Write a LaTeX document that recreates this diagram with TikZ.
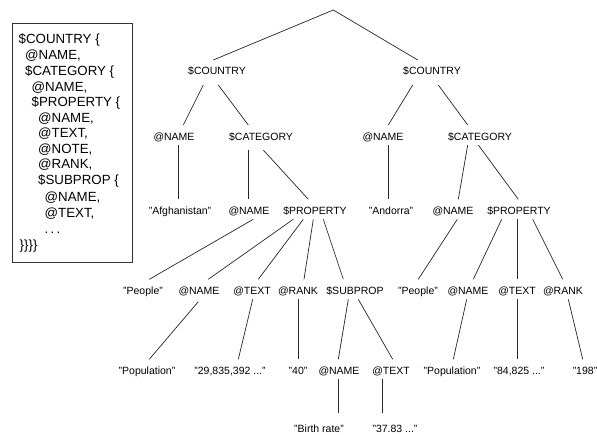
\documentclass[tikz,border=0pt]{standalone}
\usepackage{fontspec}
\setmainfont{Liberation Sans}
\usetikzlibrary{calc}
\newcommand\Edge[6]{\draw[edge] ([shift={(#2,#3)}]#1.center) -- ([shift={(#5,#6)}]#4.center);}
\begin{document}
\begin{tikzpicture}[x=1pt,y=-1pt,
  lbl/.style={inner sep=0pt, text height=7.5pt, text depth=0pt, font=\fontsize{10.5}{12}\selectfont},
  code/.style={inner sep=0pt, text height=9.5pt, text depth=0pt, font=\fontsize{13.3}{15}\selectfont, anchor=west},
  edge/.style={line width=0.7pt, black!85},
  legend/.style={draw=black!80, line width=0.8pt, inner sep=0pt, anchor=north west}]
\useasboundingbox (0,0) rectangle (597,435);

% legend box
\node[legend, minimum width=120pt, minimum height=239pt] (box) at (12,23) {};
\node[code] (b1) at (18.5,39) {\$COUNTRY \{};
\node[code] (b2) at (25,55) {@NAME,};
\node[code] (b3) at (25,71) {\$CATEGORY \{};
\node[code] (b4) at (31.5,86.5) {@NAME,};
\node[code] (b5) at (31.5,102) {\$PROPERTY \{};
\node[code] (b6) at (38,117.5) {@NAME,};
\node[code] (b7) at (38,133) {@TEXT,};
\node[code] (b8) at (38,148.5) {@NOTE,};
\node[code] (b9) at (38,164) {@RANK,};
\node[code] (b10) at (38,180) {\$SUBPROP \{};
\node[code] (b11) at (44.5,197) {@NAME,};
\node[code] (b12) at (44.5,213) {@TEXT,};
\node[code] (b13) at (44.5,229) {.\,.\,.};
\node[code] (b14) at (19.5,245) {\}\}\}\}};

% tree
\coordinate (root) at (333.3,10);
\node[lbl] (c1) at (217,71) {\$COUNTRY};
\node[lbl] (c2) at (432,71) {\$COUNTRY};

\node[lbl] (n1) at (174,137) {@NAME};
\node[lbl] (k1) at (261,137) {\$CATEGORY};
\node[lbl] (n2) at (383,137) {@NAME};
\node[lbl] (k2) at (480,137) {\$CATEGORY};

\node[lbl] (a1) at (180,211) {"Afghanistan"};
\node[lbl] (n3) at (249,211) {@NAME};
\node[lbl] (p1) at (315,211) {\$PROPERTY};
\node[lbl] (a2) at (391,211) {"Andorra"};
\node[lbl] (n4) at (453,211) {@NAME};
\node[lbl] (p2) at (519,211) {\$PROPERTY};

\node[lbl] (pe1) at (143,291) {"People"};
\node[lbl] (n5) at (199,291) {@NAME};
\node[lbl] (t1) at (252,291) {@TEXT};
\node[lbl] (r1) at (298,291) {@RANK};
\node[lbl] (s1) at (355,291) {\$SUBPROP};
\node[lbl] (pe2) at (418,291) {"People"};
\node[lbl] (n6) at (468,291) {@NAME};
\node[lbl] (t2) at (517,291) {@TEXT};
\node[lbl] (r2) at (563,291) {@RANK};

\node[lbl] (po1) at (147,371) {"Population"};
\node[lbl] (v1) at (230,371) {"29,835,392 ..."};
\node[lbl] (v2) at (298,371) {"40"};
\node[lbl] (n7) at (339,371) {@NAME};
\node[lbl] (t3) at (391,371) {@TEXT};
\node[lbl] (po2) at (452,371) {"Population"};
\node[lbl] (v3) at (519,371) {"84,825 ..."};
\node[lbl] (v4) at (585,371) {"198"};

\node[lbl] (br) at (319,429) {"Birth rate"};
\node[lbl] (v5) at (395,429) {"37.83 ..."};

% connectors
\draw[edge] (root) -- ([shift={(-3.7,-11)}]c1.center);
\draw[edge] (root) -- ([shift={(-14.3,-11)}]c2.center);
\Edge{c1}{-13.7}{14}{n1}{9.3}{-12}
\Edge{c1}{1.3}{14}{k1}{-12.7}{-12}
\Edge{n1}{4.3}{8}{a1}{-1.7}{-11.7}
\Edge{k1}{-12.7}{13}{n3}{-0.7}{-11.7}
\Edge{k1}{2.3}{13}{p1}{-6.7}{-11.7}
\Edge{c2}{-19.3}{14}{n2}{5.3}{-12}
\Edge{c2}{6.3}{14}{k2}{-12.3}{-12}
\Edge{n2}{5.3}{8}{a2}{-2.7}{-11.7}
\Edge{k2}{-12.3}{8}{n4}{5.3}{-11.7}
\Edge{k2}{-1.7}{8}{p2}{-0.7}{-11.7}
\Edge{n3}{4.3}{8.3}{pe1}{6.3}{-11.7}
\Edge{p1}{-21.7}{8.3}{n5}{9.3}{-11.7}
\Edge{p1}{-11.7}{8.3}{t1}{6.3}{-11.7}
\Edge{p1}{-1.7}{8.3}{r1}{6}{-11.7}
\Edge{p1}{8.3}{8.3}{s1}{-11.7}{-11.7}
\Edge{n4}{4.3}{8.3}{pe2}{0.3}{-11.7}
\Edge{p2}{-17.3}{8.3}{n6}{5.3}{-11.7}
\Edge{p2}{-1.3}{8.3}{t2}{0.7}{-11.7}
\Edge{p2}{13.7}{8.3}{r2}{-0.3}{-11.7}
\Edge{n5}{-0.7}{10.7}{po1}{2.3}{-11.7}
\Edge{t1}{0.7}{8.3}{v1}{8.3}{-11.7}
\Edge{r1}{0.3}{8.3}{v2}{0.3}{-11.7}
\Edge{s1}{-6.7}{8.3}{n7}{-0.7}{-11.7}
\Edge{s1}{3.3}{8.3}{t3}{1.7}{-11.7}
\Edge{n6}{-1.3}{8.3}{po2}{1.3}{-11.7}
\Edge{t2}{0.7}{8.3}{v3}{-1.3}{-11.7}
\Edge{r2}{5.3}{8.3}{v4}{-2.3}{-11.7}
\Edge{n7}{-0.7}{8.3}{br}{19.3}{-15.7}
\Edge{t3}{-8.3}{8.3}{v5}{-12.3}{-15.7}
\end{tikzpicture}
\end{document}
